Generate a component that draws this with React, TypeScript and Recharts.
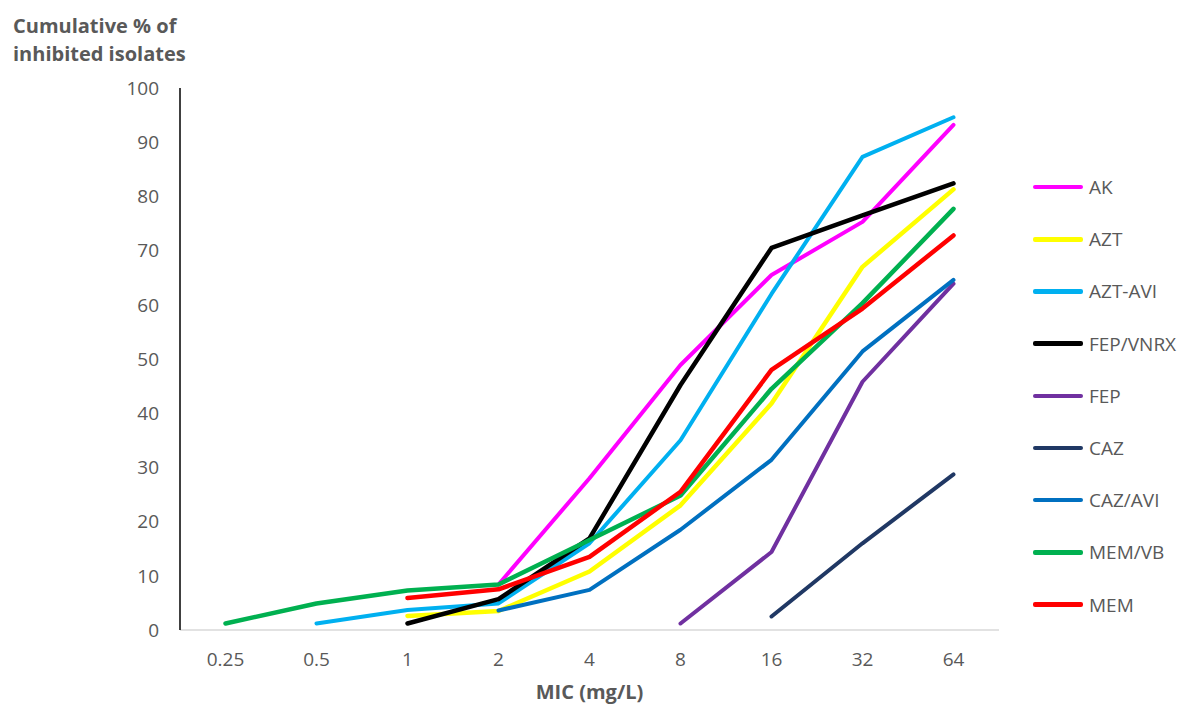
import React from "react";
import { LineChart, Line, XAxis, YAxis } from "recharts";

const categories = ["0.25", "0.5", "1", "2", "4", "8", "16", "32", "64"];
const yTicks = [0, 10, 20, 30, 40, 50, 60, 70, 80, 90, 100];

type V = number | null;
const AK: V[] = [null, null, null, 8.4, 28, 48.9, 65.5, 75.3, 93.2];
const AZT: V[] = [null, null, 2.6, 3.5, 10.8, 23, 41.8, 67, 81.3];
const AZT_AVI: V[] = [null, 1.2, 3.7, 4.9, 16, 35, 62, 87.3, 94.6];
const FEP_VNRX: V[] = [null, null, 1.2, 5.7, 16.9, 45.2, 70.5, 76.5, 82.4];
const FEP: V[] = [null, null, null, null, null, 1.2, 14.4, 45.8, 63.9];
const CAZ: V[] = [null, null, null, null, null, null, 2.5, 16, 28.7];
const CAZ_AVI: V[] = [null, null, null, 3.6, 7.4, 18.5, 31.4, 51.4, 64.6];
const MEM_VB: V[] = [1.2, 4.9, 7.3, 8.4, 16.6, 24.8, 44.5, 60.3, 77.7];
const MEM: V[] = [null, null, 5.9, 7.5, 13.5, 25.5, 48, 59.3, 72.8];

const seriesNames = ["AK", "AZT", "AZT-AVI", "FEP/VNRX", "FEP", "CAZ", "CAZ/AVI", "MEM/VB", "MEM"];
const seriesValues = [AK, AZT, AZT_AVI, FEP_VNRX, FEP, CAZ, CAZ_AVI, MEM_VB, MEM];
const seriesColors = ["#FF00FF", "#FFFF00", "#00B0F0", "#000000", "#7030A0", "#203864", "#0070C0", "#00B050", "#FF0000"];
const seriesWidths = [4, 4.5, 4, 4.5, 4, 4, 4, 4.5, 4.5];

const data = categories.map((c, i) => {
  const row: Record<string, any> = { mic: c };
  seriesNames.forEach((n, k) => {
    row[n] = seriesValues[k][i];
  });
  return row;
});

const FONT = "'Open Sans', sans-serif";
const GREY = "#595959";

export default function App() {
  return (
    <div style={{ position: "absolute", left: 0, top: 0, width: 1181, height: 706, background: "#fff" }}>
      <div
        style={{
          position: "absolute",
          left: 13,
          top: 12,
          fontFamily: FONT,
          fontWeight: 700,
          fontSize: 20,
          lineHeight: "28px",
          color: GREY,
          whiteSpace: "nowrap",
        }}
      >
        Cumulative % of
        <br />
        inhibited isolates
      </div>
      <LineChart width={1181} height={706} data={data} margin={{ top: 88, right: 182, left: 0, bottom: 0 }}>
        <XAxis
          dataKey="mic"
          height={76}
          padding={{ left: 45.5, right: 45.5 }}
          axisLine={{ stroke: "#D9D9D9", strokeWidth: 1.5 }}
          tickLine={false}
          tickSize={0}
          tickMargin={23}
          tick={{ fill: GREY, fontSize: 19, fontFamily: FONT }}
          interval={0}
          label={{
            value: "MIC (mg/L)",
            position: "insideBottom",
            offset: 7,
            style: { fill: GREY, fontSize: 20, fontWeight: 700, fontFamily: FONT },
          }}
        />
        <YAxis
          width={180}
          domain={[0, 100]}
          ticks={yTicks}
          interval={0}
          axisLine={{ stroke: "#000", strokeWidth: 1.5 }}
          tickLine={false}
          tickSize={0}
          tickMargin={21}
          tick={{ fill: GREY, fontSize: 19, fontFamily: FONT }}
        />
        {seriesNames.map((n, k) => (
          <Line
            key={n}
            type="linear"
            dataKey={n}
            stroke={seriesColors[k]}
            strokeWidth={seriesWidths[k]}
            dot={false}
            activeDot={false}
            connectNulls={false}
            isAnimationActive={false}
            strokeLinecap="round"
            strokeLinejoin="round"
          />
        ))}
      </LineChart>
      <div style={{ position: "absolute", left: 1033, top: 161, fontFamily: FONT }}>
        {seriesNames.map((n, k) => (
          <div key={n} style={{ display: "flex", alignItems: "center", height: 52.2 }}>
            <div style={{ width: 50, height: 4.5, borderRadius: 2, background: seriesColors[k], marginRight: 6 }} />
            <span style={{ fontSize: 19, color: GREY, whiteSpace: "nowrap" }}>{n}</span>
          </div>
        ))}
      </div>
    </div>
  );
}
